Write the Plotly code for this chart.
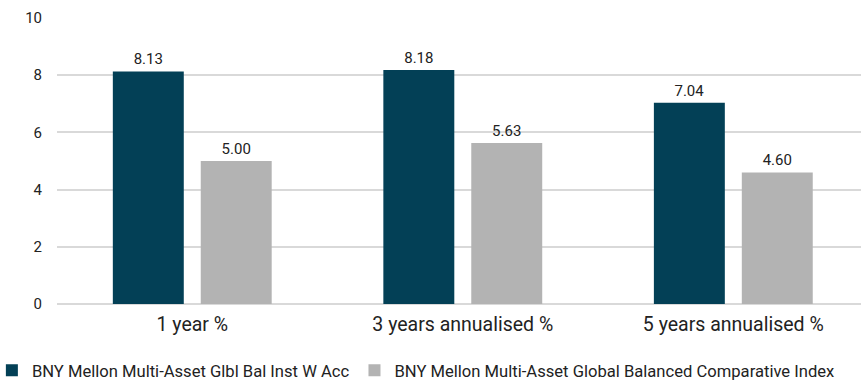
import plotly.graph_objects as go

categories = ["1 year %", "3 years annualised %", "5 years annualised %"]
fund_name = "BNY Mellon Multi-Asset Glbl Bal Inst W Acc"
index_name = "BNY Mellon Multi-Asset Global Balanced Comparative Index"
fund_values = [8.13, 8.18, 7.04]
index_values = [5.00, 5.63, 4.60]
y_ticks = [0, 2, 4, 6, 8, 10]

fig = go.Figure()
fig.add_trace(go.Bar(
    x=categories, y=fund_values, name=fund_name,
    marker=dict(color="#034056", line=dict(width=0)),
    text=[f"{v:.2f}" for v in fund_values], textposition="outside",
    textfont=dict(size=15, color="#222222"), cliponaxis=False,
))
fig.add_trace(go.Bar(
    x=categories, y=index_values, name=index_name,
    marker=dict(color="#b3b3b3", line=dict(width=0)),
    text=[f"{v:.2f}" for v in index_values], textposition="outside",
    textfont=dict(size=15, color="#222222"), cliponaxis=False,
))

fig.update_layout(
    width=861, height=381,
    margin=dict(l=57, r=0, t=18, b=77, autoexpand=False),
    paper_bgcolor="white", plot_bgcolor="white",
    font=dict(family="Roboto, Arial, sans-serif", size=14, color="#222222"),
    barmode="group", bargap=0.35, bargroupgap=0.193,
    showlegend=True,
    legend=dict(orientation="h", x=-0.081, xanchor="left", y=-0.232, yanchor="middle",
                font=dict(size=16.6, color="#222222"), itemwidth=30,
                traceorder="normal"),
)
fig.update_xaxes(range=[-0.5, 2.472], showgrid=False, showline=False, ticks="",
                 ticklabelstandoff=6,
                 tickfont=dict(size=19.5, color="#222222"))
fig.update_yaxes(range=[0, 10], tickvals=y_ticks, showgrid=True, gridcolor="#d9d9d9",
                 gridwidth=1.5, zeroline=True, zerolinecolor="#d9d9d9", zerolinewidth=1.5,
                 showline=False, ticks="", ticklabelstandoff=14,
                 tickfont=dict(size=15, color="#222222"))

fig.write_html("out.html", config={"displayModeBar": False},
               post_script="document.body.style.margin='0';")
